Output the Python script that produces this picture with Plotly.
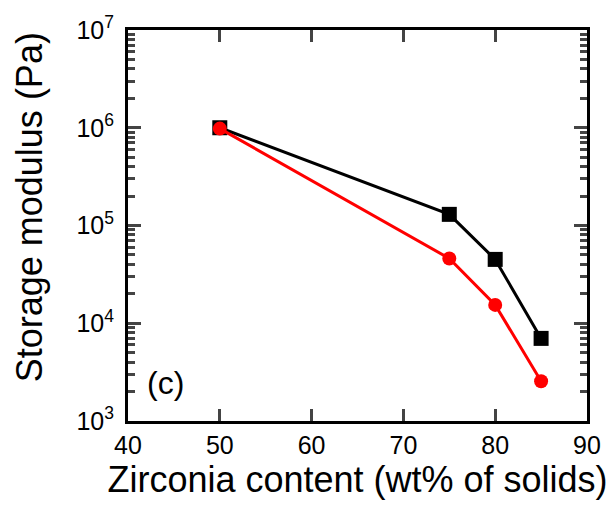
import plotly.graph_objects as go

# Zirconia content (wt% of solids)
zirconia = [50, 75, 80, 85]
# Storage modulus (Pa) for the two series
modulus_black = [1.0e6, 1.3e5, 4.5e4, 7.0e3]
modulus_red = [0.98e6, 4.6e4, 1.54e4, 2.55e3]

x_ticks = [40, 50, 60, 70, 80, 90]
y_ticks = [1e3, 1e4, 1e5, 1e6, 1e7]
y_ticktext = ["10<sup>3</sup>", "10<sup>4</sup>", "10<sup>5</sup>", "10<sup>6</sup>", "10<sup>7</sup>"]
y_minor = [k * 10 ** n for n in range(3, 7) for k in range(2, 10)]

font_family = "Liberation Sans, Arial, sans-serif"

fig = go.Figure()
fig.add_trace(go.Scatter(
    x=zirconia, y=modulus_black, mode="lines+markers",
    line=dict(color="black", width=3),
    marker=dict(symbol="square", size=15, color="black"),
    showlegend=False,
))
fig.add_trace(go.Scatter(
    x=zirconia, y=modulus_red, mode="lines+markers",
    line=dict(color="#ff0000", width=3),
    marker=dict(symbol="circle", size=14, color="#ff0000"),
    showlegend=False,
))

fig.add_annotation(
    text="(c)", xref="paper", yref="paper", x=0.036, y=0.097,
    xanchor="left", yanchor="middle", showarrow=False,
    font=dict(size=32, color="black", family=font_family),
)
# vertical axis title
fig.add_annotation(
    text="Storage modulus (Pa)", xref="paper", yref="paper", x=-0.214, y=0.546,
    xanchor="center", yanchor="middle", textangle=-90, showarrow=False,
    font=dict(size=36, color="black", family=font_family),
)

fig.update_xaxes(
    range=[40, 90], tickvals=x_ticks, ticks="inside", ticklen=12, tickwidth=3,
    showline=True, linewidth=3, linecolor="black", mirror="ticks",
    showgrid=False, zeroline=False,
    tickfont=dict(size=25, color="black", family=font_family),
    title=dict(text="Zirconia content (wt% of solids)",
               font=dict(size=36, color="black", family=font_family), standoff=4),
)
fig.update_yaxes(
    type="log", range=[3, 7], tickvals=y_ticks, ticktext=y_ticktext,
    ticks="inside", ticklen=13, tickwidth=3,
    minor=dict(tickvals=y_minor, ticks="inside", ticklen=7, tickwidth=2.5, showgrid=False),
    showline=True, linewidth=3, linecolor="black", mirror="ticks",
    showgrid=False, zeroline=False, ticklabelstandoff=6,
    tickfont=dict(size=25, color="black", family=font_family),
)

fig.update_layout(
    width=613, height=506,
    margin=dict(l=128, r=22, t=27, b=85),
    paper_bgcolor="white", plot_bgcolor="white",
)

fig.write_html("out.html")
